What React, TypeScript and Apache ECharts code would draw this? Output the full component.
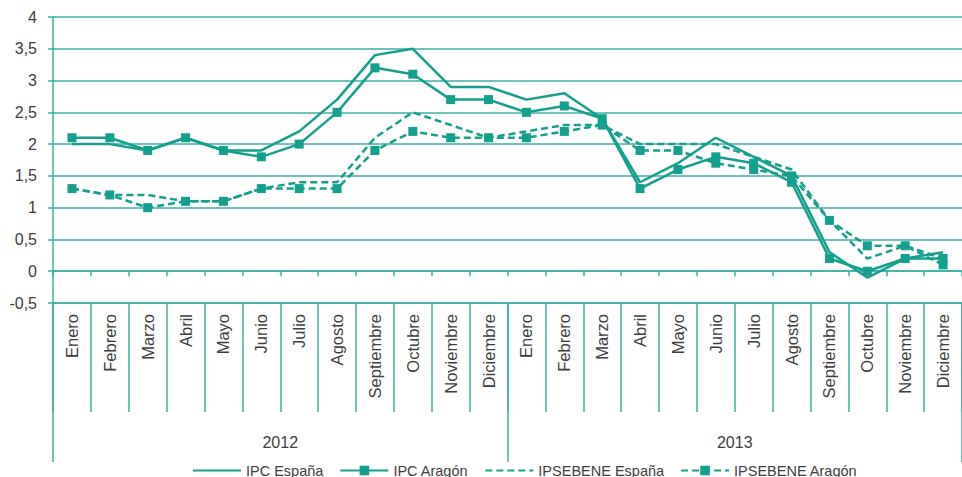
import React, { useEffect, useRef } from "react";
import * as echarts from "echarts";

const months = ["Enero", "Febrero", "Marzo", "Abril", "Mayo", "Junio", "Julio", "Agosto", "Septiembre", "Octubre", "Noviembre", "Diciembre"];
const years = ["2012", "2013"];
const yTicks = { min: -0.5, max: 4, interval: 0.5 };

const ipcEspana = [2.0, 2.0, 1.9, 2.1, 1.9, 1.9, 2.2, 2.7, 3.4, 3.5, 2.9, 2.9, 2.7, 2.8, 2.4, 1.4, 1.7, 2.1, 1.8, 1.5, 0.3, -0.1, 0.2, 0.3];
const ipcAragon = [2.1, 2.1, 1.9, 2.1, 1.9, 1.8, 2.0, 2.5, 3.2, 3.1, 2.7, 2.7, 2.5, 2.6, 2.4, 1.3, 1.6, 1.8, 1.7, 1.4, 0.2, 0.0, 0.2, 0.2];
const ipsebeneEspana = [1.3, 1.2, 1.2, 1.1, 1.1, 1.3, 1.4, 1.4, 2.1, 2.5, 2.3, 2.1, 2.2, 2.3, 2.3, 2.0, 2.0, 2.0, 1.8, 1.6, 0.8, 0.2, 0.4, 0.2];
const ipsebeneAragon = [1.3, 1.2, 1.0, 1.1, 1.1, 1.3, 1.3, 1.3, 1.9, 2.2, 2.1, 2.1, 2.1, 2.2, 2.3, 1.9, 1.9, 1.7, 1.6, 1.5, 0.8, 0.4, 0.4, 0.1];

const seriesNames = ["IPC España", "IPC Aragón", "IPSEBENE España", "IPSEBENE Aragón"];
const seriesHasMarker = [false, true, false, true];

const LINE = "#14a08e";
const GRID = "#3cb0a4";
const TEXT = "#3e3e3e";
const FONT = "'Liberation Sans', Arial, Helvetica, sans-serif";

export default function App() {
  const ref = useRef<HTMLDivElement>(null);
  useEffect(() => {
    if (!ref.current) return;
    const chart = echarts.init(ref.current, undefined, { renderer: "svg" });
    const categories: string[] = [];
    years.forEach((y) => months.forEach((m) => categories.push(y + "|" + m)));
    const mk = (name: string, data: number[], marker: boolean, dashed: boolean) => ({
      name,
      type: "line",
      data,
      xAxisIndex: 0,
      yAxisIndex: 0,
      symbol: marker ? "rect" : "none",
      symbolSize: 9,
      showSymbol: marker,
      itemStyle: { color: LINE },
      lineStyle: { color: LINE, width: 2.5, type: dashed ? [7, 4] : "solid" },
      z: 3,
    });
    chart.setOption({
      animation: false,
      textStyle: { fontFamily: FONT },
      grid: { left: 53, top: 17, height: 286, width: 914, containLabel: false },
      legend: {
        data: seriesNames.map((n, i) =>
          seriesHasMarker[i] ? { name: n } : { name: n, itemStyle: { opacity: 0 } }
        ),
        left: 187,
        top: 458,
        itemWidth: 48,
        itemHeight: 12,
        itemGap: 16,
        textStyle: { fontSize: 14.5, color: TEXT, fontFamily: FONT },
      },
      yAxis: {
        type: "value",
        min: yTicks.min,
        max: yTicks.max,
        interval: yTicks.interval,
        axisLine: { show: true, lineStyle: { color: GRID, width: 1.5 } },
        axisTick: { show: true, length: 5, lineStyle: { color: GRID, width: 1.5 } },
        splitLine: { show: true, lineStyle: { color: GRID, width: 1.5 } },
        axisLabel: {
          margin: 16,
          fontSize: 16,
          color: TEXT,
          fontFamily: FONT,
          formatter: (v: number) => String(v).replace(".", ","),
        },
      },
      xAxis: [
        {
          type: "category",
          data: categories,
          position: "bottom",
          axisLine: { show: true, onZero: true, lineStyle: { color: GRID, width: 1.5 } },
          axisTick: { show: true, length: 5, interval: 0, lineStyle: { color: GRID, width: 1.5 } },
          axisLabel: { show: false },
          splitLine: { show: false },
        },
        {
          type: "category",
          data: categories,
          position: "bottom",
          axisLine: { show: true, onZero: false, lineStyle: { color: GRID, width: 1.5 } },
          axisTick: { show: true, length: 109, interval: 0, lineStyle: { color: GRID, width: 1.5 } },
          axisLabel: {
            interval: 0,
            rotate: 90,
            margin: 11,
            fontSize: 16.5,
            color: TEXT,
            fontFamily: FONT,
            formatter: (v: string) => v.split("|")[1],
          },
          splitLine: { show: false },
        },
        {
          type: "category",
          data: years,
          position: "bottom",
          axisLine: { show: false, onZero: false },
          axisTick: { show: true, length: 159, interval: 0, lineStyle: { color: GRID, width: 1.5 } },
          axisLabel: { interval: 0, margin: 131, fontSize: 16, color: TEXT, fontFamily: FONT },
          splitLine: { show: false },
        },
      ],
      series: [
        mk(seriesNames[0], ipcEspana, false, false),
        mk(seriesNames[1], ipcAragon, true, false),
        mk(seriesNames[2], ipsebeneEspana, false, true),
        mk(seriesNames[3], ipsebeneAragon, true, true),
      ],
    });
    return () => chart.dispose();
  }, []);
  return <div ref={ref} style={{ width: 962, height: 477, position: "absolute", left: 0, top: 0 }} />;
}
